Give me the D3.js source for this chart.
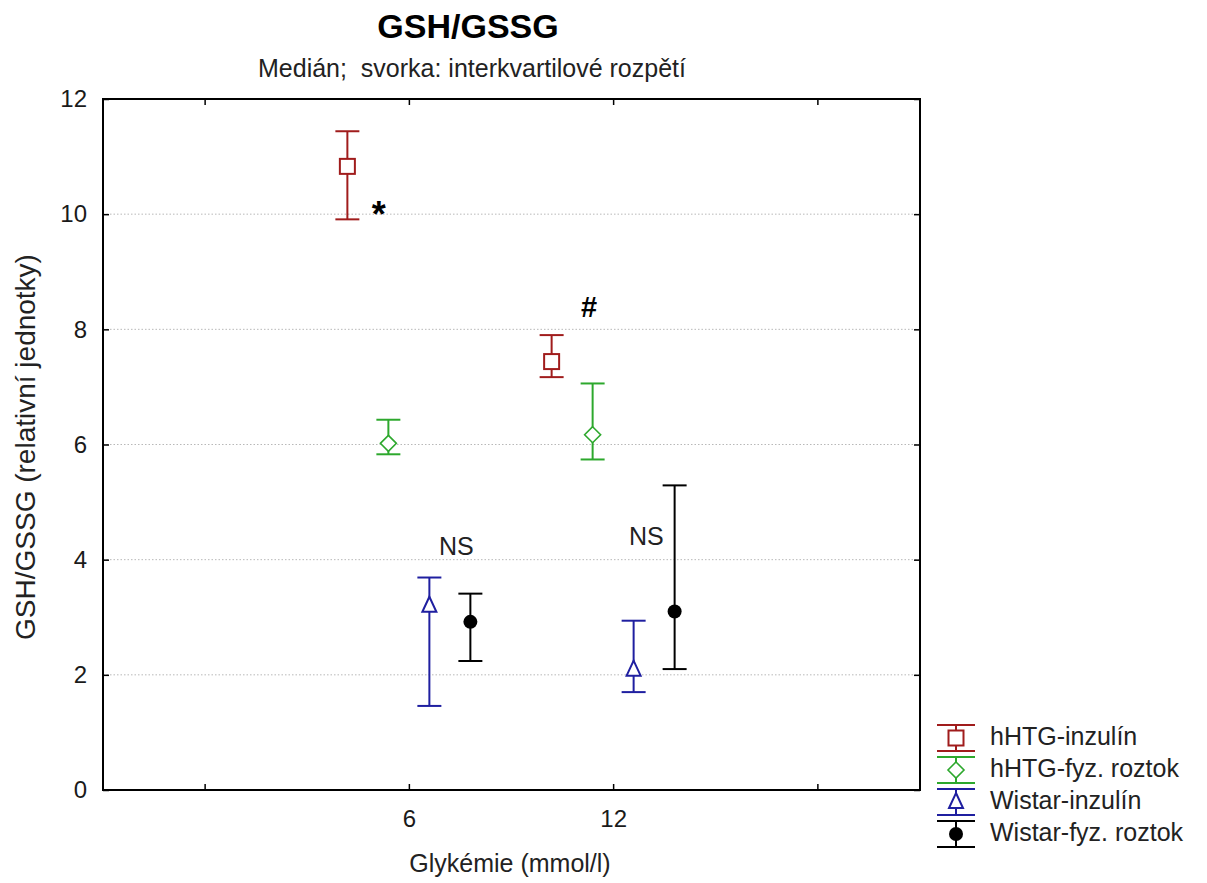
<!DOCTYPE html>
<html>
<head>
<meta charset="utf-8">
<script src="https://cdn.jsdelivr.net/npm/d3@7"></script>
<style>
body{margin:0;background:#fff;}
text{font-family:"Liberation Sans",Arial,sans-serif;white-space:pre;}
</style>
</head>
<body>
<script>
// kategorie na ose x (krajni sloty jsou prazdne)
var categories = ["a", "6", "12", "b"];
var tickLabels = {"a": "", "6": "6", "12": "12", "b": ""};
var groups = ["6", "12"];

// serie: median, dolni a horni kvartil
var seriesNames = ["hHTG-inzulín", "hHTG-fyz. roztok", "Wistar-inzulín", "Wistar-fyz. roztok"];
var seriesColors = ["#a01c1c", "#2da82d", "#1f1fa0", "#000000"];
var seriesSymbols = ["square", "diamond", "triangle", "circle"];
var medians = [[10.83, 7.44], [6.02, 6.17], [3.20, 2.09], [2.92, 3.10]];
var lowerQ  = [[9.91, 7.17], [5.83, 5.74], [1.46, 1.70], [2.24, 2.10]];
var upperQ  = [[11.44, 7.90], [6.43, 7.06], [3.69, 2.94], [3.41, 5.29]];

// anotace
var notes = [
  {text: "*", cat: "6", off: -0.15, val: 9.95, size: 36},
  {text: "#", cat: "12", off: -0.12, val: 8.35, size: 29},
  {text: "NS", cat: "6", off: 0.23, val: 4.2, size: 25},
  {text: "NS", cat: "12", off: 0.16, val: 4.37, size: 25}
];

var width = 1207, height = 883;
var pL = 103, pR = 920, pT = 99, pB = 790;

var svg = d3.select("body").append("svg").attr("width", width).attr("height", height);

var x = d3.scaleBand().domain(categories).range([pL, pR]).padding(0);
var y = d3.scaleLinear().domain([0, 12]).range([pB, pT]);
var offsets = d3.scaleLinear().domain([0, 3]).range([-62, 61]);

// mrizka
svg.append("g").selectAll("line").data([2, 4, 6, 8, 10]).enter().append("line")
  .attr("x1", pL).attr("x2", pR)
  .attr("y1", function(d){return y(d);}).attr("y2", function(d){return y(d);})
  .attr("stroke", "#b8b8b8").attr("stroke-width", 1).attr("stroke-dasharray", "1.5,2");

// osy
var yAxisL = d3.axisLeft(y).ticks(6).tickSize(-6).tickPadding(16);
var yAxisR = d3.axisRight(y).ticks(6).tickSize(-6).tickFormat("");
var xAxisB = d3.axisBottom(x).tickSize(-6).tickPadding(20).tickFormat(function(d){return tickLabels[d];});
var xAxisT = d3.axisTop(x).tickSize(-6).tickFormat("");

function styleAxis(g){
  g.select(".domain").remove();
  g.selectAll("line").attr("stroke", "#000").attr("stroke-width", 1.5);
  g.selectAll("text").attr("font-size", 24).attr("fill", "#1a1a1a").attr("font-family", "Liberation Sans, Arial, sans-serif");
}
svg.append("g").attr("transform", "translate(" + pL + ",0)").call(yAxisL).call(styleAxis);
svg.append("g").attr("transform", "translate(" + pR + ",0)").call(yAxisR).call(styleAxis);
svg.append("g").attr("transform", "translate(0," + pB + ")").call(xAxisB).call(styleAxis);
svg.append("g").attr("transform", "translate(0," + pT + ")").call(xAxisT).call(styleAxis);

svg.append("rect").attr("x", pL).attr("y", pT).attr("width", pR - pL).attr("height", pB - pT)
  .attr("fill", "none").attr("stroke", "#000").attr("stroke-width", 2);

// znacky
function drawMarker(g, sym, cx, cy, color){
  if(sym === "square"){
    g.append("rect").attr("x", cx - 7.5).attr("y", cy - 7.5).attr("width", 15).attr("height", 15)
      .attr("fill", "#fff").attr("stroke", color).attr("stroke-width", 2);
  } else if(sym === "diamond"){
    g.append("path").attr("d", "M" + cx + "," + (cy - 8) + "L" + (cx + 8) + "," + cy + "L" + cx + "," + (cy + 8) + "L" + (cx - 8) + "," + cy + "Z")
      .attr("fill", "#fff").attr("stroke", color).attr("stroke-width", 1.6);
  } else if(sym === "triangle"){
    g.append("path").attr("d", "M" + cx + "," + (cy - 9) + "L" + (cx + 7) + "," + (cy + 6) + "L" + (cx - 7) + "," + (cy + 6) + "Z")
      .attr("fill", "#fff").attr("stroke", color).attr("stroke-width", 2);
  } else {
    g.append("circle").attr("cx", cx).attr("cy", cy).attr("r", 7).attr("fill", color);
  }
}

// chybove usecky
for(var s = 0; s < seriesNames.length; s++){
  var col = seriesColors[s];
  var g = svg.append("g");
  for(var k = 0; k < groups.length; k++){
    var cx = x(groups[k]) + x.bandwidth() / 2 + offsets(s);
    var yt = y(upperQ[s][k]), yb = y(lowerQ[s][k]), ym = y(medians[s][k]);
    g.append("line").attr("x1", cx).attr("x2", cx).attr("y1", yt).attr("y2", yb).attr("stroke", col).attr("stroke-width", 2);
    g.append("line").attr("x1", cx - 12).attr("x2", cx + 12).attr("y1", yt).attr("y2", yt).attr("stroke", col).attr("stroke-width", 2);
    g.append("line").attr("x1", cx - 12).attr("x2", cx + 12).attr("y1", yb).attr("y2", yb).attr("stroke", col).attr("stroke-width", 2);
    drawMarker(g, seriesSymbols[s], cx, ym, col);
  }
}

// anotace
svg.append("g").selectAll("text").data(notes).enter().append("text")
  .attr("x", function(d){return x(d.cat) + x.bandwidth() / 2 + d.off * x.bandwidth();})
  .attr("y", function(d){return y(d.val);})
  .attr("text-anchor", "middle").attr("dominant-baseline", "middle")
  .attr("font-size", function(d){return d.size;})
  .attr("font-weight", function(d){return d.text === "NS" ? "normal" : "bold";})
  .attr("fill", function(d){return d.text === "NS" ? "#222" : "#000";})
  .text(function(d){return d.text;});

// nadpisy
svg.append("text").attr("x", 468).attr("y", 38).attr("text-anchor", "middle")
  .attr("font-size", 34).attr("font-weight", "bold").text("GSH/GSSG");
svg.append("text").attr("x", 472).attr("y", 77).attr("text-anchor", "middle")
  .attr("font-size", 25).attr("fill", "#222").text("Medián;  svorka: interkvartilové rozpětí");
svg.append("text").attr("x", 510).attr("y", 872).attr("text-anchor", "middle")
  .attr("font-size", 25).attr("fill", "#222").text("Glykémie (mmol/l)");
svg.append("text").attr("transform", "translate(35,447) rotate(-90)").attr("text-anchor", "middle")
  .attr("font-size", 28).attr("fill", "#222").text("GSH/GSSG (relativní jednotky)");

// legenda
var leg = svg.append("g");
for(var i = 0; i < seriesNames.length; i++){
  var ly = 738 + i * 32;
  var lx = 956;
  leg.append("line").attr("x1", lx - 19).attr("x2", lx + 19).attr("y1", ly - 13).attr("y2", ly - 13).attr("stroke", seriesColors[i]).attr("stroke-width", 2);
  leg.append("line").attr("x1", lx - 19).attr("x2", lx + 19).attr("y1", ly + 13).attr("y2", ly + 13).attr("stroke", seriesColors[i]).attr("stroke-width", 2);
  leg.append("line").attr("x1", lx).attr("x2", lx).attr("y1", ly - 13).attr("y2", ly + 13).attr("stroke", seriesColors[i]).attr("stroke-width", 2);
  drawMarker(leg, seriesSymbols[i], lx, ly, seriesColors[i]);
  leg.append("text").attr("x", 990).attr("y", ly).attr("dominant-baseline", "middle")
    .attr("font-size", 25).attr("fill", "#222").text(seriesNames[i]);
}
</script>
</body>
</html>
